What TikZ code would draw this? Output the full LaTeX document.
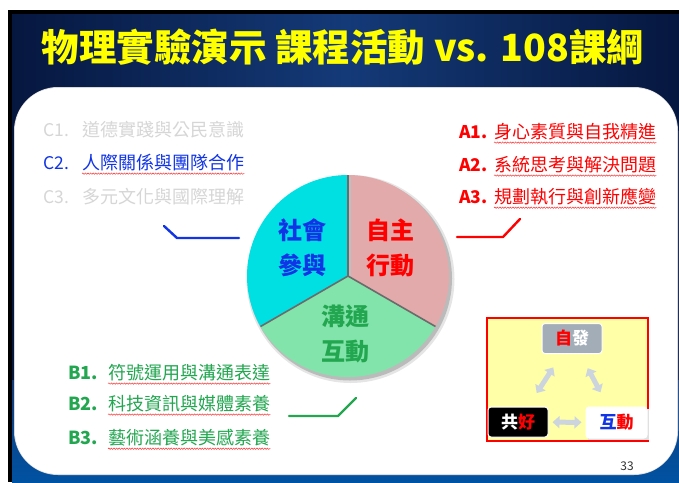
\documentclass[tikz,border=0pt]{standalone}
\usepackage{fontspec}
\setmainfont{Noto Sans CJK TC}
\usetikzlibrary{arrows.meta,decorations.pathmorphing}
\definecolor{navyA}{HTML}{06173F}
\definecolor{navyB}{HTML}{143A78}
\definecolor{blueB}{HTML}{0052A2}
\definecolor{cyanpie}{HTML}{00E0E2}
\definecolor{pinkpie}{HTML}{E2AAAA}
\definecolor{greenpie}{HTML}{82E4AA}
\definecolor{bluetxt}{HTML}{1034E6}
\definecolor{redtxt}{HTML}{FF0000}
\definecolor{greentxt}{HTML}{22A650}
\definecolor{greytxt}{HTML}{D6D6D6}
\definecolor{yellowbox}{HTML}{FFFFA8}
\definecolor{arrowgrey}{HTML}{CCD5DE}
\definecolor{graybox}{HTML}{A3ADB8}
\definecolor{titleyellow}{HTML}{FFFF00}
\begin{document}
\begin{tikzpicture}[x=1pt,y=-1pt,
  titletext/.style={text=titleyellow, font=\fontsize{37.5}{40}\selectfont\bfseries, inner sep=0pt},
  lbl/.style={anchor=west, inner sep=0pt, font=\fontsize{17.5}{20}\selectfont},
  itm/.style={anchor=west, inner sep=0pt, font=\fontsize{18}{20}\selectfont},
  wavy/.style={red!85!white, line width=0.45pt, decorate, decoration={snake, amplitude=0.7pt, segment length=2.6pt}},
  conn/.style={line width=2.4pt, line cap=round, line join=round},
  pietext/.style={align=center, inner sep=0pt, font=\fontsize{24}{35}\selectfont\bfseries},
  divider/.style={draw=black!58, line width=1.6pt},
  smallbox/.style={minimum width=60pt, minimum height=30pt, rounded corners=3pt, inner sep=0pt, draw=white, line width=1pt, font=\fontsize{17}{20}\selectfont\bfseries},
  dblarrow/.style={draw=arrowgrey, line width=5pt, {Triangle[width=12pt,length=7pt]}-{Triangle[width=12pt,length=7pt]}}
]
\useasboundingbox (0,0) rectangle (679,482);
% slide background
\fill[white] (0,0) rectangle (679,482);
\fill[black] (8,10) rectangle (679,482);
\shade[left color=navyA, right color=navyA, middle color=navyB] (12,14) rectangle (679,482);
\shade[top color=navyB, bottom color=blueB] (12,380) rectangle (679,482);
% white panel
\fill[black!15] (14,87) [rounded corners=44pt] rectangle (678,475);
\fill[white, rounded corners=42pt] (15,88) rectangle (677,474);

% title
\node[titletext] (title) at (343,47) {物理實驗演示 課程活動 vs. 108課綱};

% C list
\node[lbl, greytxt] (c1l) at (43,130) {C1.};
\node[itm, greytxt] (c1t) at (82,130) {道德實踐與公民意識};
\node[lbl, bluetxt] (c2l) at (43,163) {C2.};
\node[itm, bluetxt] (c2t) at (82,163) {人際關係與團隊合作};
\node[lbl, greytxt] (c3l) at (43,197) {C3.};
\node[itm, greytxt] (c3t) at (82,197) {多元文化與國際理解};
\draw[wavy] ([yshift=-2pt]c2t.south west) -- ([yshift=-2pt]c2t.south east);

% A list
\node[lbl, redtxt, font=\fontsize{17.5}{20}\selectfont\bfseries] (a1l) at (459,132) {A1.};
\node[itm, redtxt] (a1t) at (494,132) {身心素質與自我精進};
\node[lbl, redtxt, font=\fontsize{17.5}{20}\selectfont\bfseries] (a2l) at (459,165) {A2.};
\node[itm, redtxt] (a2t) at (494,165) {系統思考與解決問題};
\node[lbl, redtxt, font=\fontsize{17.5}{20}\selectfont\bfseries] (a3l) at (459,197) {A3.};
\node[itm, redtxt] (a3t) at (494,197) {規劃執行與創新應變};
\foreach \n in {a1t,a2t,a3t}
  \draw[wavy] ([yshift=-2pt]\n.south west) -- ([yshift=-2pt]\n.south east);

% B list
\node[lbl, greentxt, font=\fontsize{18}{20}\selectfont\bfseries] (b1l) at (68,373) {B1.};
\node[itm, greentxt] (b1t) at (108,373) {符號運用與溝通表達};
\node[lbl, greentxt, font=\fontsize{18}{20}\selectfont\bfseries] (b2l) at (68,404) {B2.};
\node[itm, greentxt] (b2t) at (108,404) {科技資訊與媒體素養};
\node[lbl, greentxt, font=\fontsize{18}{20}\selectfont\bfseries] (b3l) at (68,438) {B3.};
\node[itm, greentxt] (b3t) at (108,438) {藝術涵養與美感素養};
\foreach \n in {b1t,b2t,b3t}
  \draw[wavy] ([yshift=-2pt]\n.south west) -- ([yshift=-2pt]\n.south east);

% connectors
\coordinate (cb1) at (164,226); \coordinate (cb2) at (177,238); \coordinate (cb3) at (239,238);
\draw[conn, bluetxt] (cb1) -- (cb2) -- (cb3);
\coordinate (ca1) at (457,237); \coordinate (ca2) at (503,237); \coordinate (ca3) at (520,219);
\draw[conn, redtxt] (ca1) -- (ca2) -- (ca3);
\coordinate (cg1) at (289,416); \coordinate (cg2) at (338,416); \coordinate (cg3) at (356,398);
\draw[conn, greentxt] (cg1) -- (cg2) -- (cg3);

% pie
\begin{scope}[shift={(348,276)}, y={(0pt,1pt)}]
  \fill[black, opacity=0.10] (2.5,-3) circle (104);
  \fill[black, opacity=0.18] (2,-2.5) circle (102);
  \fill[cyanpie] (0,0) -- (90:101) arc[start angle=90, end angle=210, radius=101] -- cycle;
  \fill[pinkpie] (0,0) -- (-30:101) arc[start angle=-30, end angle=90, radius=101] -- cycle;
  \fill[greenpie] (0,0) -- (210:101) arc[start angle=210, end angle=330, radius=101] -- cycle;
  \coordinate (pc) at (0,0);
  \coordinate (p90) at (90:101);
  \coordinate (p210) at (210:101);
  \coordinate (p330) at (330:101);
\end{scope}
\draw[black!25, line width=2pt] ([xshift=1.5pt,yshift=-1.5pt]p90) -- ([xshift=1.5pt,yshift=-1.5pt]pc);
\draw[divider] (p90) -- (pc);
\draw[divider] (p210) -- (pc) -- (p330);
\node[pietext, text=bluetxt] (social) at (302,248) {社會\\參與};
\node[pietext, text=redtxt] (self) at (390,248) {自主\\行動};
\node[pietext, text=greentxt] (comm) at (345,334) {溝通\\互動};

% small panel
\node[draw=red, line width=1.2pt, fill=yellowbox, minimum width=161pt, minimum height=123pt, inner sep=0pt] (panel) at (567.5,379.5) {};
\node[smallbox, fill=graybox] (zf) at (572,338.5) {\textcolor{red}{自}\textcolor{white}{發}};
\node[smallbox, fill=black] (gh) at (518,422) {\textcolor{white}{共}\textcolor{red}{好}};
\fill[black!12] (587.5,408.5) rectangle (648.5,439.5);
\node[smallbox, fill=white, minimum width=61pt, minimum height=31pt] (hd) at (616.5,422.5) {\textcolor{bluetxt}{互}\textcolor{red}{動}};
\draw[dblarrow, shorten <=16pt, shorten >=16pt] (zf) -- (gh);
\draw[dblarrow, shorten <=16pt, shorten >=16pt] (zf) -- (hd);
\draw[dblarrow, shorten <=4pt, shorten >=4pt] (gh) -- (hd);

\node[inner sep=0pt, text=black!80, font=\fontsize{12}{14}\selectfont] (pg) at (627,466) {33};
\end{tikzpicture}
\end{document}
